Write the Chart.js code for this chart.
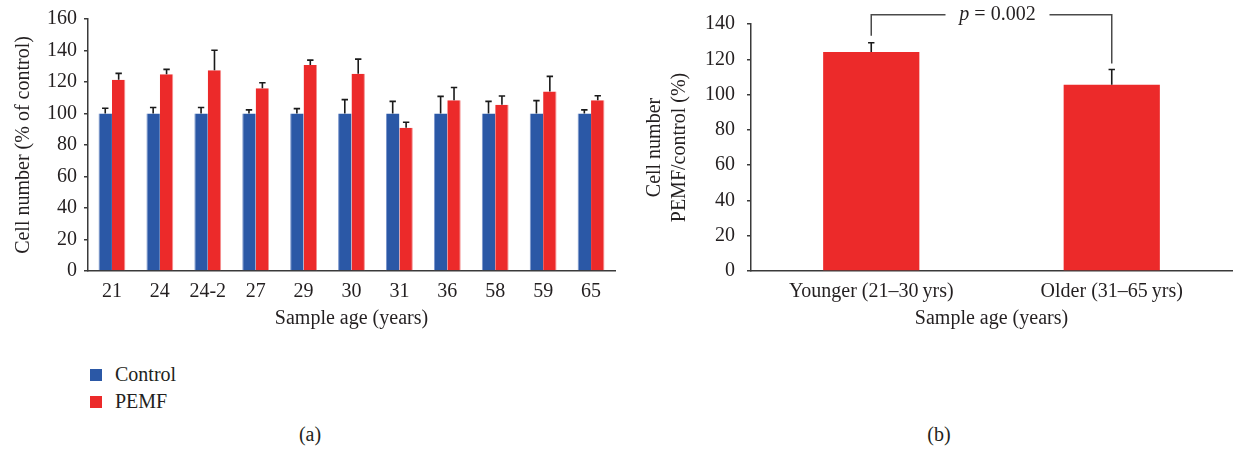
<!DOCTYPE html>
<html>
<head>
<meta charset="utf-8">
<script src="https://cdn.jsdelivr.net/npm/chart.js@4.4.1/dist/chart.umd.min.js"></script>
<style>
  html, body { margin: 0; padding: 0; background: #fff; width: 1234px; height: 449px; overflow: hidden;
               font-family: "Liberation Serif", "Times New Roman", serif; color: #231f20; }
  canvas { position: absolute; top: 0; }
  #chartA { left: 0; }
  #chartB { left: 630px; }
  .legend { position: absolute; left: 90px; top: 361px; font-size: 20px; }
  .legend .row { height: 27px; display: flex; align-items: center; }
  .legend .sw { display: inline-block; width: 12px; height: 12px; margin-right: 13px; }
  .panel { position: absolute; top: 423px; font-size: 20px; transform: translateX(-50%); }
</style>
</head>
<body>
<canvas id="chartA" width="640" height="345"></canvas>
<canvas id="chartB" width="604" height="345"></canvas>
<div class="legend" id="legendA"></div>
<div class="panel" style="left:310px">(a)</div>
<div class="panel" style="left:939px">(b)</div>

<script>
// ---- data: cell number per donor sample (% of control), mean and upper SD ----
const sampleAges = ['21', '24', '24-2', '27', '29', '30', '31', '36', '58', '59', '65'];
const controlMean = [100, 100, 100, 100, 100, 100, 100, 100, 100, 100, 100];
const controlSD   = [3.3, 3.8, 3.8, 2.3, 3.1, 8.8, 7.7, 10.9, 7.7, 8.2, 2.3];
const pemfMean    = [121.5, 124.9, 127.4, 116.1, 130.8, 125.3, 91.0, 108.4, 105.6, 114.0, 108.4];
const pemfSD      = [4.0, 3.1, 12.8, 3.4, 3.1, 9.2, 3.4, 8.1, 5.5, 9.6, 2.9];

// ---- data: grouped PEMF/control ratio ----
const ageGroups  = ['Younger (21\u201330\u2009yrs)', 'Older (31\u201365\u2009yrs)'];
const ratioMean  = [124.2, 105.5];
const ratioSD    = [5.2, 8.7];
const pValueText = '= 0.002';

const yTicksA = { min: 0, max: 160, step: 20 };
const yTicksB = { min: 0, max: 140, step: 20 };

const BLUE = '#2b58a6';
const RED = '#ec2a2a';
const INK = '#231f20';
const AXIS = '#3a3a3a';

Chart.defaults.font.family = '"Liberation Serif", "Times New Roman", serif';
Chart.defaults.font.size = 20;
Chart.defaults.color = INK;

// draws an upward error bar with a cap on every bar that carries an "sd" array
const errorBars = {
  id: 'errorBars',
  afterDatasetsDraw(chart) {
    const { ctx } = chart;
    const yScale = chart.scales.y;
    chart.data.datasets.forEach((ds, di) => {
      if (!ds.sd) return;
      const meta = chart.getDatasetMeta(di);
      ctx.save();
      ctx.strokeStyle = '#1a1a1a';
      ctx.lineWidth = 1.6;
      meta.data.forEach((bar, i) => {
        const yTop = yScale.getPixelForValue(ds.data[i] + ds.sd[i]);
        const yBase = yScale.getPixelForValue(ds.data[i]);
        ctx.beginPath();
        ctx.moveTo(bar.x, yBase);
        ctx.lineTo(bar.x, yTop);
        ctx.moveTo(bar.x - 3.2, yTop);
        ctx.lineTo(bar.x + 3.2, yTop);
        ctx.stroke();
      });
      ctx.restore();
    });
  }
};

// significance bracket between the two group bars
const bracket = {
  id: 'bracket',
  afterDatasetsDraw(chart, args, opts) {
    if (!opts.text) return;
    const { ctx } = chart;
    const yScale = chart.scales.y;
    const ds = chart.data.datasets[0];
    const bars = chart.getDatasetMeta(0).data;
    const tops = bars.map((b, i) => yScale.getPixelForValue(ds.data[i] + ds.sd[i]));
    const lineY = Math.min(...tops) - 28;
    const x1 = bars[0].x, x2 = bars[1].x;
    const mid = (x1 + x2) / 2 + 6;
    const gap = 52;
    ctx.save();
    ctx.strokeStyle = '#4a4a4a';
    ctx.lineWidth = 1.5;
    ctx.beginPath();
    ctx.moveTo(x1, tops[0] - 7);
    ctx.lineTo(x1, lineY);
    ctx.lineTo(mid - gap, lineY);
    ctx.moveTo(mid + gap, lineY);
    ctx.lineTo(x2, lineY);
    ctx.lineTo(x2, tops[1] - 6);
    ctx.stroke();
    ctx.fillStyle = INK;
    ctx.textBaseline = 'middle';
    ctx.font = 'italic 20px "Liberation Serif", serif';
    const pW = ctx.measureText('p ').width;
    ctx.font = '20px "Liberation Serif", serif';
    const restW = ctx.measureText(opts.text).width;
    const start = mid - (pW + restW) / 2;
    ctx.font = 'italic 20px "Liberation Serif", serif';
    ctx.textAlign = 'left';
    ctx.fillText('p', start, lineY);
    ctx.font = '20px "Liberation Serif", serif';
    ctx.fillText(opts.text, start + pW, lineY);
    ctx.restore();
  }
};

function yAxis(t, width, title, titlePad, labelPad) {
  return {
    min: t.min, max: t.max,
    ticks: { stepSize: t.step, padding: labelPad, color: INK },
    grid: { display: true, drawOnChartArea: false, drawTicks: true, tickLength: 4, color: AXIS, lineWidth: 1.5 },
    border: { display: true, color: AXIS, width: 1.5 },
    title: { display: true, text: title, color: INK, padding: { top: titlePad, bottom: 0 },
             font: { size: 20, lineHeight: 1.25 } },
    afterFit(scale) { scale.width = width; }
  };
}

function xAxis(height) {
  return {
    ticks: { padding: 9, color: INK, maxRotation: 0, autoSkip: false },
    grid: { display: false, drawTicks: false },
    border: { display: true, color: AXIS, width: 1.5 },
    title: { display: true, text: 'Sample age (years)', color: INK, padding: { top: 0, bottom: 14 },
             font: { size: 20, lineHeight: 1.2 } },
    afterFit(scale) { scale.height = height; }
  };
}

const chartA = new Chart(document.getElementById('chartA'), {
  type: 'bar',
  data: {
    labels: sampleAges,
    datasets: [
      { label: 'Control', data: controlMean, sd: controlSD, backgroundColor: BLUE,
        borderColor: '#7b96cc', borderWidth: { left: 1, right: 0, top: 0, bottom: 0 },
        barPercentage: 1, categoryPercentage: 0.56 },
      { label: 'PEMF', data: pemfMean, sd: pemfSD, backgroundColor: RED,
        borderColor: '#f49090', borderWidth: { left: 0, right: 1, top: 0, bottom: 0 },
        barPercentage: 1, categoryPercentage: 0.56 }
    ]
  },
  options: {
    responsive: false, animation: false,
    layout: { padding: { top: 16, right: 25, left: 0, bottom: 0 } },
    plugins: { legend: { display: false }, tooltip: { enabled: false } },
    scales: {
      x: xAxis(74),
      y: yAxis(yTicksA, 88, 'Cell number (% of control)', 11, 7)
    }
  },
  plugins: [errorBars]
});

// legend built from the chart's own datasets
const legendEl = document.getElementById('legendA');
chartA.data.datasets.forEach(ds => {
  const row = document.createElement('div');
  row.className = 'row';
  const sw = document.createElement('span');
  sw.className = 'sw';
  sw.style.background = ds.backgroundColor;
  row.appendChild(sw);
  row.appendChild(document.createTextNode(ds.label));
  legendEl.appendChild(row);
});

new Chart(document.getElementById('chartB'), {
  type: 'bar',
  data: {
    labels: ageGroups,
    datasets: [
      { label: 'PEMF/control', data: ratioMean, sd: ratioSD, backgroundColor: RED,
        borderWidth: 0, barPercentage: 0.4, categoryPercentage: 1 }
    ]
  },
  options: {
    responsive: false, animation: false,
    layout: { padding: { top: 24, right: 2, left: 0, bottom: 0 } },
    plugins: { legend: { display: false }, tooltip: { enabled: false }, bracket: { text: pValueText } },
    scales: {
      x: xAxis(74),
      y: yAxis(yTicksB, 121, ['Cell number', 'PEMF/control (%)'], 12, 12)
    }
  },
  plugins: [errorBars, bracket]
});
</script>
</body>
</html>
